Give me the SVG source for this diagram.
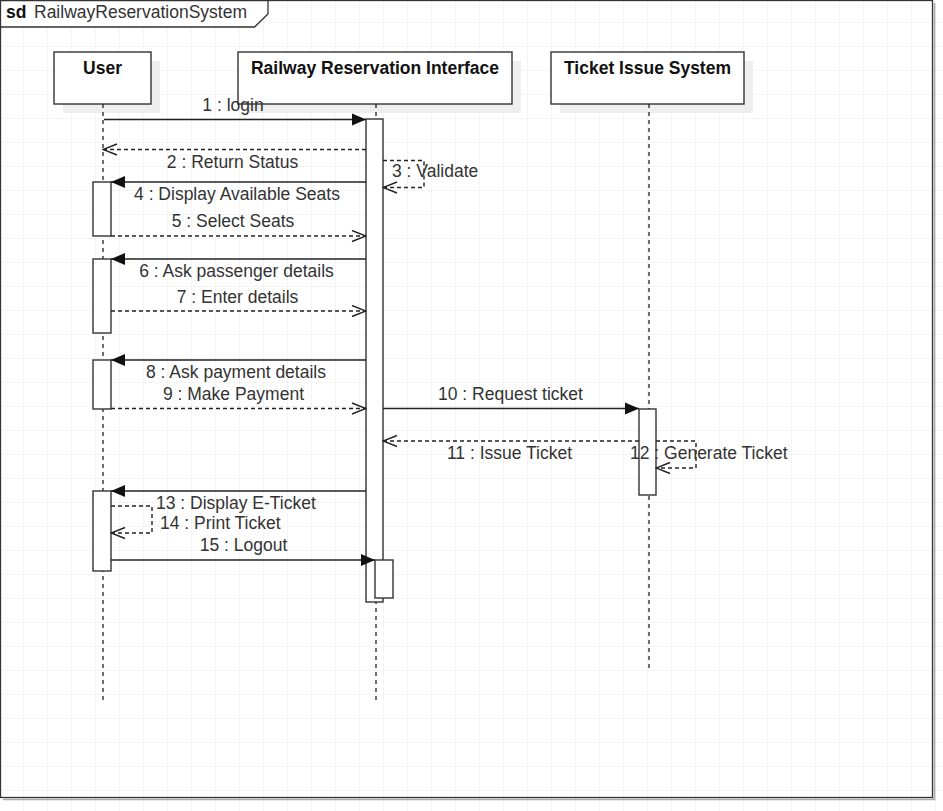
<svg xmlns="http://www.w3.org/2000/svg" width="943" height="811" viewBox="0 0 943 811">
<style>
.t{font-family:"Liberation Sans",Arial,sans-serif;font-size:17.5px;fill:#333}
.b{font-weight:bold;fill:#111}
.box{fill:#fff;stroke:#333;stroke-width:1.4}
.sh{fill:#eeeeee}
.life{stroke:#222;stroke-width:1.3;stroke-dasharray:4 4;fill:none}
.act{fill:#fff;stroke:#333;stroke-width:1.4}
.sol{stroke:#222;stroke-width:1.4;fill:none;marker-end:url(#fill)}
.dsh{stroke:#222;stroke-width:1.4;fill:none;stroke-dasharray:4 3;marker-end:url(#open)}
</style>
<defs>
<pattern id="grid" width="24" height="24" patternUnits="userSpaceOnUse" x="0" y="-1">
<path d="M24 0V24M0 24H24" stroke="#e8e8e8" stroke-width="1" fill="none"/>
</pattern>
<marker id="fill" markerUnits="userSpaceOnUse" markerWidth="16" markerHeight="14" refX="15" refY="6.5" orient="auto">
<path d="M1 0.5L15 6.5L1 12.5Z" fill="#111"/>
</marker>
<marker id="open" markerUnits="userSpaceOnUse" markerWidth="16" markerHeight="14" refX="15" refY="6.5" orient="auto">
<path d="M1 1L15 6.5L1 12" fill="none" stroke="#222" stroke-width="1.4"/>
</marker>
</defs>
<rect width="943" height="811" fill="#fff"/>
<rect width="943" height="811" fill="url(#grid)"/>
<g id="frame">
<path d="M3 799.5H934.5V3" fill="none" stroke="#aaa" stroke-width="1.6"/>
<rect x="0.5" y="0.5" width="932" height="797" fill="none" stroke="#333" stroke-width="1.3"/>
<path d="M0.5 0.5H268V14L254.5 27H0.5Z" fill="#fff" stroke="#333" stroke-width="1.3"/>
<text class="t b" x="6" y="18">sd</text>
<text class="t" x="34" y="18">RailwayReservationSystem</text>
</g>
<g id="user">
<rect class="sh" x="63" y="61" width="97" height="52"/>
<rect class="box" x="54" y="52" width="97" height="52"/>
<text class="t b" x="102.5" y="74" text-anchor="middle">User</text>
<line class="life" x1="103" y1="104" x2="103" y2="700"/>
<rect class="act" x="93" y="182" width="18" height="54"/>
<rect class="act" x="93" y="259" width="18" height="74"/>
<rect class="act" x="93" y="360" width="18" height="49"/>
<rect class="act" x="93" y="491" width="18" height="80"/>
</g>
<g id="rri">
<rect class="sh" x="247" y="61" width="274" height="52"/>
<rect class="box" x="238" y="52" width="274" height="52"/>
<text class="t b" x="375" y="74" text-anchor="middle">Railway Reservation Interface</text>
<line class="life" x1="376" y1="104" x2="376" y2="700"/>
<rect class="act" x="366" y="119" width="17" height="483"/>
<rect class="act" x="375" y="560" width="18" height="38"/>
</g>
<g id="tis">
<rect class="sh" x="560" y="61" width="193" height="52"/>
<rect class="box" x="551" y="52" width="193" height="52"/>
<text class="t b" x="647.5" y="74" text-anchor="middle">Ticket Issue System</text>
<line class="life" x1="649" y1="104" x2="649" y2="668"/>
<rect class="act" x="639" y="409" width="17" height="86"/>
</g>
<g id="connectors">
<line class="sol" x1="104" y1="119.5" x2="366" y2="119.5"/>
<line class="dsh" x1="366" y1="149.5" x2="103" y2="149.5"/>
<path class="dsh" d="M383 160.5H424V187.5H383"/>
<line class="sol" x1="366" y1="182" x2="111" y2="182"/>
<line class="dsh" x1="111" y1="236" x2="366" y2="236"/>
<line class="sol" x1="366" y1="259" x2="111" y2="259"/>
<line class="dsh" x1="111" y1="311" x2="366" y2="311"/>
<line class="sol" x1="366" y1="360" x2="111" y2="360"/>
<line class="dsh" x1="111" y1="408.5" x2="366" y2="408.5"/>
<line class="sol" x1="383" y1="408.5" x2="639" y2="408.5"/>
<line class="dsh" x1="639" y1="441" x2="383" y2="441"/>
<path class="dsh" d="M656 441H696V468H656"/>
<line class="sol" x1="366" y1="491" x2="111" y2="491"/>
<path class="dsh" d="M111 506H152V533H111"/>
<line class="sol" x1="111" y1="560" x2="375" y2="560"/>
</g>
<g id="labels">
<text class="t" x="233" y="111" text-anchor="middle">1 : login</text>
<text class="t" x="232.5" y="168" text-anchor="middle">2 : Return Status</text>
<text class="t" x="392" y="177">3 : Validate</text>
<text class="t" x="237" y="200" text-anchor="middle">4 : Display Available Seats</text>
<text class="t" x="233" y="227" text-anchor="middle">5 : Select Seats</text>
<text class="t" x="236.5" y="277" text-anchor="middle">6 : Ask passenger details</text>
<text class="t" x="237.5" y="303" text-anchor="middle">7 : Enter details</text>
<text class="t" x="236" y="378" text-anchor="middle">8 : Ask payment details</text>
<text class="t" x="233.5" y="400" text-anchor="middle">9 : Make Payment</text>
<text class="t" x="510.5" y="400" text-anchor="middle">10 : Request ticket</text>
<text class="t" x="509.5" y="459" text-anchor="middle">11 : Issue Ticket</text>
<text class="t" x="630" y="459">12 : Generate Ticket</text>
<text class="t" x="156" y="509">13 : Display E-Ticket</text>
<text class="t" x="160" y="529">14 : Print Ticket</text>
<text class="t" x="243.5" y="551" text-anchor="middle">15 : Logout</text>
</g>
</svg>
